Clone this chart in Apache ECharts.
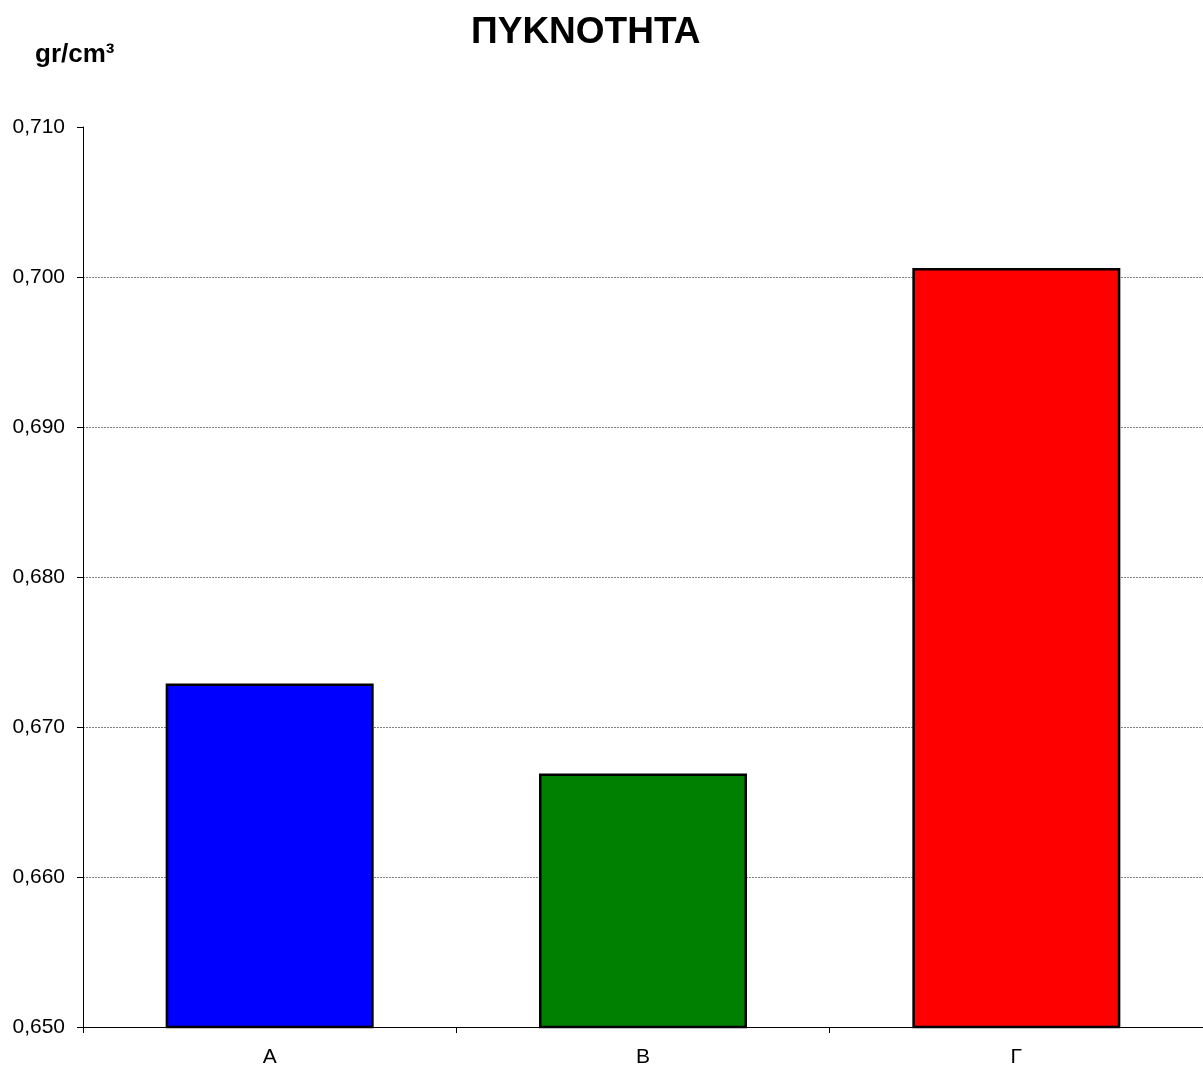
<!DOCTYPE html>
<html>
<head>
<meta charset="utf-8">
<script src="https://cdn.jsdelivr.net/npm/echarts@6/dist/echarts.min.js"></script>
<style>
  html, body { margin: 0; padding: 0; background: #fff; }
  #chart { width: 1203px; height: 1072px; }
</style>
</head>
<body>
<div id="chart"></div>
<script>
// Density per sample (gr/cm³)
const categories = ['A', 'B', 'Γ'];
const densities = [0.6729, 0.6669, 0.7006];
const barColors = ['#0000FF', '#008000', '#FF0000'];

const chart = echarts.init(document.getElementById('chart'));
const font = '"Liberation Sans", Arial, sans-serif';

// Grid lines at 0.650 … 0.700; the topmost (0.710) is left blank
const gridColors = ['#808080', '#808080', '#808080', '#808080', '#808080', '#808080', 'rgba(0,0,0,0)'];

chart.setOption({
  animation: false,
  backgroundColor: '#ffffff',
  title: [
    {
      text: 'ΠΥΚΝΟΤΗΤΑ',
      left: 466,
      top: 9,
      textStyle: { fontFamily: font, fontSize: 37, fontWeight: 'bold', color: '#000' }
    },
    {
      text: 'gr/cm³',
      left: 30,
      top: 37,
      textStyle: { fontFamily: font, fontSize: 26, fontWeight: 'bold', color: '#000' }
    }
  ],
  grid: { left: 83, right: 0, top: 127, bottom: 45, containLabel: false },
  xAxis: {
    type: 'category',
    data: categories,
    axisLine: { lineStyle: { color: '#000', width: 1 } },
    axisTick: { show: true, alignWithLabel: false, length: 6, lineStyle: { color: '#000' } },
    axisLabel: { fontFamily: font, fontSize: 21, color: '#000', margin: 20 }
  },
  yAxis: {
    type: 'value',
    min: 0.650,
    max: 0.710,
    interval: 0.010,
    axisLine: { show: true, lineStyle: { color: '#000', width: 1 } },
    axisTick: { show: true, length: 6, lineStyle: { color: '#000' } },
    axisLabel: {
      fontFamily: font, fontSize: 21, color: '#000', margin: 18,
      formatter: v => v.toFixed(3).replace('.', ',')
    },
    splitLine: { show: true, lineStyle: { color: gridColors, width: 1, type: [2, 1] } }
  },
  series: [{
    type: 'bar',
    data: densities.map((v, i) => ({ value: v, itemStyle: { color: barColors[i] } })),
    barWidth: 208,
    itemStyle: { borderColor: '#000', borderWidth: 2.5 }
  }]
});
</script>
</body>
</html>
